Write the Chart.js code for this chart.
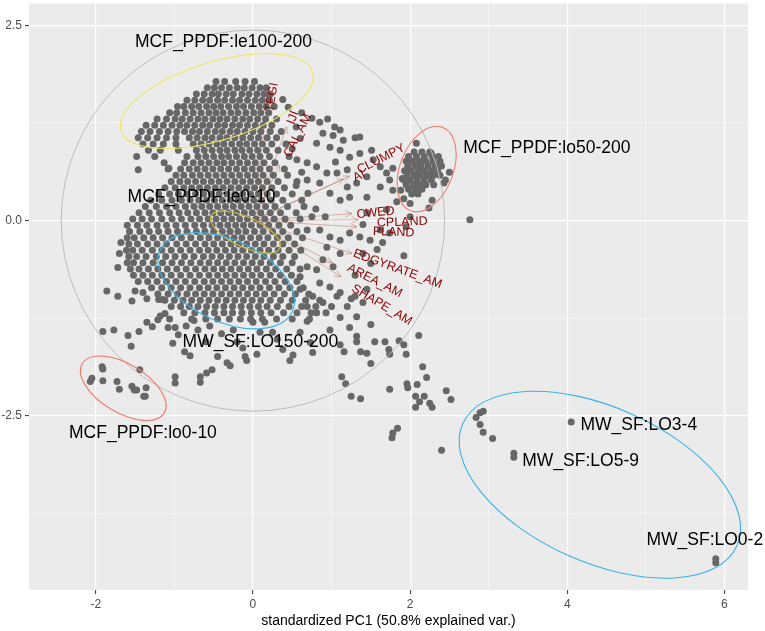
<!DOCTYPE html>
<html><head><meta charset="utf-8">
<script src="https://cdn.jsdelivr.net/npm/chart.js@4.4.0/dist/chart.umd.min.js"></script>
<style>html,body{margin:0;padding:0;background:#fff;}canvas{display:block;}</style>
</head><body>
<canvas id="c" width="765" height="631"></canvas>
<script>
// ---------- DATA (standardized PC1 / PC2 scores) ----------
// main cloud: each row = [PC2, [PC1 values of points in that band]]
const cloudRows = [
 [1.78,[-0.47,-0.36,-0.22,-0.10,0.02]],
 [1.70,[-0.58,-0.49,-0.40,-0.30,-0.20,-0.11,-0.01,0.09,0.17]],
 [1.62,[-0.72,-0.62,-0.52,-0.44,-0.34,-0.25,-0.14,-0.05,0.05,0.14,0.22]],
 [1.54,[-0.84,-0.74,-0.64,-0.55,-0.45,-0.36,-0.26,-0.17,-0.07,0.03,0.12,0.21]],
 [1.46,[-0.96,-0.88,-0.78,-0.69,-0.59,-0.50,-0.41,-0.31,-0.21,-0.12,-0.02,0.08,0.17,0.27]],
 [1.38,[-1.06,-0.97,-0.86,-0.76,-0.66,-0.56,-0.47,-0.38,-0.28,-0.19,-0.09,0.01,0.10,0.20]],
 [1.30,[-1.22,-1.10,-0.99,-0.90,-0.80,-0.70,-0.61,-0.51,-0.42,-0.33,-0.23,-0.13,-0.04,0.06,0.16,0.30]],
 [1.22,[-1.36,-1.25,-1.14,-1.03,-0.93,-0.84,-0.74,-0.64,-0.55,-0.45,-0.36,-0.26,-0.17,-0.07,0.03,0.13,0.24]],
 [1.14,[-1.42,-1.31,-1.19,-1.08,-0.97,-0.87,-0.77,-0.68,-0.58,-0.48,-0.39,-0.29,-0.20,-0.10,0.00,0.10,0.22,0.36]],
 [1.06,[-1.46,-1.34,-1.22,-1.10,-0.98,-0.81,-0.71,-0.61,-0.52,-0.42,-0.33,-0.23,-0.13,-0.03,0.07,0.18,0.30]],
 [0.98,[-1.40,-1.27,-1.14,-0.98,-0.76,-0.66,-0.56,-0.46,-0.37,-0.27,-0.17,-0.08,0.02,0.12,0.24,0.42]],
 [0.90,[-1.33,-1.18,-0.95,-0.72,-0.62,-0.52,-0.42,-0.33,-0.23,-0.14,-0.04,0.06,0.17,0.32]],
 [0.82,[-1.48,-1.25,-0.84,-0.70,-0.60,-0.50,-0.40,-0.31,-0.21,-0.11,-0.01,0.09,0.21,0.46]],
 [0.74,[-1.13,-0.87,-0.76,-0.66,-0.56,-0.46,-0.37,-0.27,-0.17,-0.07,0.03,0.14,0.28]],
 [0.66,[-1.08,-0.92,-0.81,-0.71,-0.61,-0.51,-0.41,-0.31,-0.21,-0.11,-0.01,0.09,0.21,0.40]],
 [0.58,[-0.98,-0.88,-0.77,-0.67,-0.57,-0.47,-0.37,-0.27,-0.17,-0.07,0.03,0.13,0.26,0.44]],
 [0.50,[-1.04,-0.93,-0.83,-0.73,-0.63,-0.53,-0.43,-0.33,-0.23,-0.13,-0.03,0.07,0.18,0.32,0.56]],
 [0.42,[-1.12,-0.99,-0.88,-0.78,-0.68,-0.58,-0.48,-0.38,-0.28,-0.18,-0.08,0.02,0.12,0.24,0.40]],
 [0.34,[-1.20,-1.06,-0.95,-0.84,-0.73,-0.63,-0.53,-0.43,-0.33,-0.23,-0.13,-0.03,0.07,0.18,0.30,0.50]],
 [0.26,[-1.30,-1.16,-1.03,-0.91,-0.80,-0.69,-0.59,-0.49,-0.39,-0.29,-0.19,-0.09,0.01,0.11,0.23,0.38,0.62]],
 [0.18,[-1.37,-1.23,-1.10,-0.98,-0.86,-0.75,-0.65,-0.55,-0.45,-0.35,-0.25,-0.15,-0.05,0.05,0.16,0.28,0.44]],
 [0.10,[-1.45,-1.32,-1.19,-1.06,-0.94,-0.83,-0.72,-0.61,-0.51,-0.41,-0.31,-0.21,-0.11,-0.01,0.10,0.22,0.35,0.55]],
 [0.02,[-1.53,-1.41,-1.29,-1.16,-1.03,-0.91,-0.79,-0.68,-0.57,-0.47,-0.37,-0.27,-0.17,-0.07,0.04,0.15,0.27,0.41,0.60]],
 [-0.06,[-1.60,-1.47,-1.35,-1.22,-1.10,-0.98,-0.86,-0.74,-0.63,-0.52,-0.42,-0.32,-0.22,-0.12,-0.02,0.09,0.20,0.33,0.48]],
 [-0.14,[-1.57,-1.44,-1.32,-1.20,-1.08,-0.96,-0.84,-0.72,-0.61,-0.50,-0.39,-0.29,-0.19,-0.09,0.02,0.13,0.25,0.38,0.56]],
 [-0.22,[-1.60,-1.51,-1.39,-1.27,-1.15,-1.03,-0.91,-0.79,-0.67,-0.56,-0.45,-0.34,-0.24,-0.14,-0.03,0.08,0.19,0.31,0.45,0.63]],
 [-0.30,[-1.58,-1.47,-1.34,-1.22,-1.10,-0.97,-0.85,-0.73,-0.61,-0.50,-0.39,-0.28,-0.18,-0.08,0.03,0.14,0.26,0.38,0.53]],
 [-0.38,[-1.61,-1.53,-1.41,-1.28,-1.16,-1.04,-0.92,-0.80,-0.68,-0.57,-0.46,-0.35,-0.24,-0.13,-0.02,0.09,0.20,0.32,0.46,0.61]],
 [-0.46,[-1.58,-1.48,-1.36,-1.23,-1.11,-0.99,-0.87,-0.75,-0.63,-0.52,-0.41,-0.30,-0.19,-0.08,0.03,0.14,0.26,0.38,0.53]],
 [-0.54,[-1.60,-1.52,-1.40,-1.27,-1.15,-1.03,-0.91,-0.79,-0.67,-0.56,-0.45,-0.34,-0.23,-0.12,-0.01,0.10,0.22,0.35,0.50]],
 [-0.62,[-1.56,-1.45,-1.33,-1.21,-1.09,-0.97,-0.85,-0.73,-0.61,-0.50,-0.39,-0.28,-0.17,-0.06,0.05,0.17,0.29,0.43,0.60]],
 [-0.70,[-1.52,-1.40,-1.28,-1.16,-1.04,-0.92,-0.80,-0.68,-0.56,-0.45,-0.34,-0.23,-0.12,-0.01,0.10,0.22,0.35,0.49]],
 [-0.78,[-1.46,-1.34,-1.22,-1.10,-0.98,-0.86,-0.74,-0.62,-0.51,-0.40,-0.29,-0.18,-0.07,0.04,0.16,0.28,0.41,0.56]],
 [-0.86,[-1.29,-1.16,-1.04,-0.92,-0.80,-0.68,-0.57,-0.46,-0.35,-0.24,-0.13,-0.02,0.09,0.21,0.33,0.47,0.64]],
 [-0.94,[-1.21,-1.08,-0.96,-0.84,-0.73,-0.62,-0.51,-0.40,-0.29,-0.18,-0.07,0.04,0.15,0.27,0.40,0.54,0.71]],
 [-1.02,[-1.12,-1.00,-0.89,-0.78,-0.67,-0.56,-0.45,-0.34,-0.23,-0.12,-0.01,0.10,0.22,0.35,0.50,0.67,0.85]],
 [-1.10,[-1.04,-0.92,-0.81,-0.70,-0.59,-0.48,-0.37,-0.26,-0.15,-0.04,0.07,0.18,0.31,0.46,0.62,0.80,1.00]],
 [-1.18,[-0.88,-0.74,-0.61,-0.49,-0.37,-0.26,-0.14,-0.02,0.10,0.23,0.39,0.56,0.74,0.93]],
 [-1.26,[-0.78,-0.60,-0.45,-0.30,-0.16,-0.03,0.12,0.30,0.50,0.72]]
];
// dense cluster on the right (MCF_PPDF:lo50-200)
const clusterRows = [
 [0.88,[2.05,2.15,2.25]],
 [0.82,[1.98,2.08,2.18,2.28,2.36]],
 [0.76,[1.95,2.03,2.12,2.20,2.29,2.38]],
 [0.70,[1.97,2.06,2.14,2.23,2.32,2.40]],
 [0.64,[1.93,2.01,2.10,2.18,2.27,2.35]],
 [0.58,[1.96,2.05,2.13,2.22,2.30,2.38]],
 [0.52,[1.92,2.00,2.09,2.18,2.27]],
 [0.46,[1.95,2.04,2.12,2.20,2.30]],
 [0.40,[1.98,2.07,2.15]],
 [0.34,[2.02,2.10]]
];
// individual scattered points [PC1, PC2]
const sparsePoints = [
 [2.08,0.99],[2.27,0.86],[2.50,0.62],[2.45,0.52],[2.43,0.48],[2.28,0.26],[2.24,0.16],[2.00,0.22],[1.92,0.28],[1.88,0.39],[1.90,0.54],[2.76,0.01],
 [0.75,1.31],[0.85,1.26],[0.95,1.30],[1.04,1.20],[1.11,1.16],[0.89,1.12],[1.02,1.09],[1.15,1.03],[1.30,1.06],[1.36,1.07],[0.81,0.99],[0.98,0.94],
 [1.11,0.90],[1.23,0.81],[1.36,0.86],[1.51,0.90],[1.53,0.78],[1.62,0.69],[1.70,0.61],[1.78,0.67],[1.74,0.52],[1.45,0.56],[1.32,0.48],[1.20,0.43],
 [1.07,0.61],[0.94,0.61],[0.81,0.69],[0.69,0.74],[0.56,0.78],[0.69,0.52],[0.85,0.48],[0.98,0.35],[1.11,0.26],[1.23,0.30],[1.45,0.30],[1.62,0.43],
 [1.78,0.39],[1.83,0.24],[1.70,0.14],[1.62,-0.12],[1.74,-0.16],[1.65,-0.28],[1.49,-0.25],[1.36,-0.21],[1.23,-0.16],[1.11,-0.25],[0.98,-0.21],[0.85,-0.12],
 [0.69,-0.12],[0.94,-0.34],[1.11,-0.42],[1.40,-0.42],[1.58,-0.37],[0.89,-0.50],[1.02,-0.59],[0.81,-0.63],[0.69,-0.59],[0.60,-0.72],[0.85,-0.80],[0.98,-0.85],
 [1.11,-0.92],[0.76,-0.97],[0.69,-1.10],[0.60,-0.88],[0.55,1.20],[0.60,1.05],[0.50,0.92],[0.62,0.62],[0.55,0.45],[0.70,0.35],[0.65,0.18],[0.75,0.05],
 [0.80,0.15],[0.92,0.05],[1.45,0.10],[1.40,-0.05],[1.95,-0.08],[2.00,0.05],[1.92,-0.45],[1.50,-0.55],[1.30,-0.70],[1.45,-0.88],[1.25,-1.00],[1.05,0.75],
 [1.20,0.65],[0.45,1.45],[0.62,1.38],[0.38,1.55],
 [1.23,-1.37],[1.11,-1.24],[1.20,-1.10],[1.32,-1.23],[1.40,-1.05],[1.30,-0.97],[1.07,-0.97],[0.89,-1.05],[0.81,-1.18],[0.69,-1.29],[0.60,-1.43],[0.73,-1.56],
 [0.31,-1.52],[0.38,-1.65],[0.25,-1.43],[0.09,-1.43],[0.98,-1.40],
 [1.13,-2.00],[1.18,-2.09],[1.25,-2.25],[1.37,-2.28],[1.74,-2.16],[1.96,-2.09],[1.97,-2.14],[2.09,-2.10],[2.16,-1.87],[2.21,-2.01],[2.11,-1.47],[1.86,-1.54],
 [1.92,-1.59],[1.95,-1.71],[1.73,-1.65],[1.74,-1.71],[1.68,-1.55],[1.55,-1.55],[1.50,-1.83],[1.45,-1.70],[1.37,-1.68],[1.32,-1.55],[1.32,-1.48],[1.50,-1.33],
 [1.16,-1.68],[2.07,-2.25],[2.12,-2.32],[2.18,-2.25],[2.07,-2.39],[2.25,-2.34],[2.28,-2.39],[2.46,-2.18],[2.52,-2.29],[1.78,-2.72],[1.84,-2.66],[1.77,-2.78],
 [2.40,-2.94],[1.11,-1.59],[0.47,-1.79],[0.51,-1.72],[0.76,-1.69],[-0.08,-1.79],[-0.10,-1.74],
 [2.84,-2.52],[2.89,-2.46],[2.93,-2.44],[2.89,-2.61],[2.93,-2.71],[3.05,-2.79],[3.32,-2.98],[3.32,-3.03],[4.05,-2.58],[5.89,-4.33],[5.89,-4.38],
 [-2.07,-2.06],[-1.73,-2.06],[-1.70,-2.16],[-1.54,-2.12],[-1.48,-2.17],[-1.37,-2.25],[-1.36,-2.14],[-1.92,-1.87],[-1.91,-1.90],[-2.05,-2.02],[-1.91,-2.05],
 [-1.51,-2.17],[-1.39,-2.25],[-1.44,-1.91],[-0.99,-2.00],[-0.99,-2.08],[-0.67,-2.07],
 [-1.59,-1.47],[-1.55,-1.61],[-1.45,-1.42],[-1.91,-1.42],[-1.77,-1.40],[-1.28,-1.36],[-1.21,-1.27],[-1.12,-1.19],[-1.06,-1.26],[-1.08,-1.37],[-0.99,-1.37],
 [-0.95,-1.46],[-0.87,-1.68],[-0.80,-1.73],[-1.02,-1.57],[-0.67,-2.00],[-0.59,-1.95],[-0.52,-1.91],[-0.33,-1.82],[-0.29,-1.86],[-0.13,-1.63],[0.05,-1.71],
 [-0.45,-1.74],[-1.86,-0.90],[-1.72,-0.97],[-1.54,-1.03],[-1.50,-0.90],[-1.40,-0.92],[-1.35,-1.00],[-1.20,-1.01],[-1.15,-1.01],[-1.18,-1.22],[-1.35,-1.30],
 [-1.46,0.65],[-1.07,0.67],[-0.70,-1.40],[-0.55,-1.35],[-0.40,-1.45],[-0.25,-1.40],[-0.60,-1.55],[-0.20,-1.55],[0.00,-1.30],[0.15,-1.30],[-0.85,-1.35],[-0.75,-1.28],
 [-1.70,-0.42],[-1.72,-0.60],[-1.68,-0.28]
];

// variable loadings (arrow tips) and their labels
const varNames      = ['TEGI','IJI','CAI_AM','AI','CLUMPY','CWED','CPLAND','PLAND','EDGYRATE_AM','AREA_AM','SHAPE_AM'];
const varTipX       = [0.15, 0.43, 0.34, 1.15, 1.23, 1.26, 1.34, 1.32, 1.26, 1.01, 1.12];
const varTipY       = [1.26, 1.20, 0.71, 0.53, 0.57, 0.09, 0.01, -0.08, -0.42, -0.54, -0.72];
const varLabelX     = [0.24, 0.51, 0.57, 1.35, 1.63, 1.56, 1.90, 1.79, 1.84, 1.55, 1.64];
const varLabelY     = [1.58, 1.32, 1.09, 0.57, 0.79, 0.10, -0.02, -0.15, -0.62, -0.77, -1.08];
const varLabelAngle = [-80, -70, -63, -26, -27, -6, -2, 2, 20, 27, 31];

// group ellipses
const ellCX    = [-0.46, -0.095, -0.34, 2.21, -1.65, 4.415];
const ellCY    = [1.53, -0.147, -0.77, 0.66, -2.147, -3.382];
const ellA     = [1.277, 0.484, 0.93, 0.57, 0.61, 1.916];
const ellB     = [0.50, 0.19, 0.52, 0.34, 0.31, 0.99];
const ellAngle = [-17, 25, 25, -69, 31, 24];
const ellColor = ['#EEE65C','#CDBE3C','#3DB1E3','#EE7D70','#EE7D70','#3DB1E3'];

// group labels
const labelText = ['MCF_PPDF:le100-200','MCF_PPDF:lo50-200','MCF_PPDF:le0-10','MW_SF:LO150-200','MCF_PPDF:lo0-10','MW_SF:LO3-4','MW_SF:LO5-9','MW_SF:LO0-2'];
const labelX    = [-0.375, 3.74, -0.655, 0.095, -1.40, 4.91, 4.17, 5.75];
const labelY    = [2.286, 0.928, 0.299, -1.562, -2.724, -2.622, -3.082, -4.091];

// correlation circle
const circleRadius = 2.44;

const xTitle = 'standardized PC1 (50.8% explained var.)';

// ---------- build ----------
const points = [];
cloudRows.forEach(([y, xs]) => xs.forEach(x => points.push({x, y})));
clusterRows.forEach(([y, xs]) => xs.forEach(x => points.push({x, y})));
sparsePoints.forEach(([x, y]) => points.push({x, y}));

const FONT = '"Liberation Sans", Arial, Helvetica, sans-serif';

function isMajor(v, step) { return Math.abs(v / step - Math.round(v / step)) < 1e-6; }

const bgPlugin = {
  id: 'bg',
  beforeDraw(chart) {
    const {ctx, chartArea: a} = chart;
    ctx.save();
    ctx.fillStyle = '#FFFFFF';
    ctx.fillRect(0, 0, chart.width, chart.height);
    ctx.fillStyle = '#EBEBEB';
    ctx.fillRect(a.left, a.top, a.right - a.left, a.bottom - a.top);
    ctx.restore();
  },
  beforeDatasetsDraw(chart) {
    const {ctx, chartArea: a, scales: {x, y}} = chart;
    ctx.save();
    ctx.beginPath(); ctx.rect(a.left, a.top, a.right - a.left, a.bottom - a.top); ctx.clip();
    ctx.strokeStyle = 'rgba(165,75,55,0.38)';
    ctx.lineWidth = 1;
    const x0 = x.getPixelForValue(0), y0 = y.getPixelForValue(0);
    for (let i = 0; i < varNames.length; i++) {
      const tx = x.getPixelForValue(varTipX[i]), ty = y.getPixelForValue(varTipY[i]);
      ctx.beginPath(); ctx.moveTo(x0, y0); ctx.lineTo(tx, ty); ctx.stroke();
      const ang = Math.atan2(ty - y0, tx - x0), L = 7, w = Math.PI / 7;
      ctx.beginPath();
      ctx.moveTo(tx - L * Math.cos(ang - w), ty - L * Math.sin(ang - w));
      ctx.lineTo(tx, ty);
      ctx.lineTo(tx - L * Math.cos(ang + w), ty - L * Math.sin(ang + w));
      ctx.stroke();
    }
    ctx.restore();
  },
  afterDatasetsDraw(chart) {
    const {ctx, chartArea: a, scales: {x, y}} = chart;
    const px = x.getPixelForValue(1) - x.getPixelForValue(0);
    const py = y.getPixelForValue(0) - y.getPixelForValue(1);
    const pm = (px + py) / 2;
    ctx.save();
    ctx.beginPath(); ctx.rect(a.left, a.top, a.right - a.left, a.bottom - a.top); ctx.clip();
    // circle
    ctx.strokeStyle = '#BDBDBD'; ctx.lineWidth = 1;
    ctx.beginPath();
    ctx.ellipse(x.getPixelForValue(0), y.getPixelForValue(0), circleRadius * px, circleRadius * py, 0, 0, Math.PI * 2);
    ctx.stroke();
    // ellipses
    ctx.lineWidth = 1.1;
    for (let i = 0; i < ellCX.length; i++) {
      ctx.strokeStyle = ellColor[i];
      ctx.beginPath();
      ctx.ellipse(x.getPixelForValue(ellCX[i]), y.getPixelForValue(ellCY[i]), ellA[i] * pm, ellB[i] * pm, ellAngle[i] * Math.PI / 180, 0, Math.PI * 2);
      ctx.stroke();
    }
    // variable labels
    ctx.fillStyle = '#8B0000';
    ctx.font = '12.5px ' + FONT;
    ctx.textAlign = 'center'; ctx.textBaseline = 'middle';
    for (let i = 0; i < varNames.length; i++) {
      ctx.save();
      ctx.translate(x.getPixelForValue(varLabelX[i]), y.getPixelForValue(varLabelY[i]));
      ctx.rotate(varLabelAngle[i] * Math.PI / 180);
      ctx.fillText(varNames[i], 0, 0);
      ctx.restore();
    }
    ctx.restore();
    // group labels (not clipped)
    ctx.save();
    ctx.fillStyle = '#000000';
    ctx.font = '17.5px ' + FONT;
    ctx.textAlign = 'center'; ctx.textBaseline = 'middle';
    for (let i = 0; i < labelText.length; i++) {
      ctx.fillText(labelText[i], x.getPixelForValue(labelX[i]), y.getPixelForValue(labelY[i]));
    }
    // x title
    ctx.font = '14px ' + FONT;
    ctx.fillText(xTitle, (a.left + a.right) / 2, 621);
    ctx.restore();
  }
};

new Chart(document.getElementById('c'), {
  type: 'scatter',
  data: { datasets: [{ data: points, pointRadius: 3.5, pointHoverRadius: 3.5, backgroundColor: '#676767', borderWidth: 0 }] },
  options: {
    responsive: false, animation: false, events: [],
    layout: { padding: { top: 3, right: 17, left: 0, bottom: 0 } },
    plugins: { legend: { display: false }, tooltip: { enabled: false } },
    scales: {
      x: {
        type: 'linear', min: -2.85, max: 6.30,
        afterFit(s) { s.height = 41; s.paddingLeft = 0; s.paddingRight = 0; },
        border: { display: false },
        grid: {
          color: c => isMajor(c.tick.value, 2) ? '#FFFFFF' : 'rgba(255,255,255,0.75)',
          lineWidth: c => isMajor(c.tick.value, 2) ? 1.2 : 0.6,
          tickLength: 4,
          tickColor: c => isMajor(c.tick.value, 2) ? '#333333' : 'rgba(0,0,0,0)',
          tickWidth: 1
        },
        ticks: {
          stepSize: 1, includeBounds: false, autoSkip: false, maxRotation: 0, padding: 3,
          color: '#4D4D4D', font: { size: 12, family: FONT },
          callback: v => isMajor(v, 2) ? String(Math.round(v)) : ''
        }
      },
      y: {
        type: 'linear', min: -4.73, max: 2.78,
        afterFit(s) { s.width = 29; s.paddingTop = 0; s.paddingBottom = 0; },
        border: { display: false },
        grid: {
          color: c => isMajor(c.tick.value, 2.5) ? '#FFFFFF' : 'rgba(255,255,255,0.75)',
          lineWidth: c => isMajor(c.tick.value, 2.5) ? 1.2 : 0.6,
          tickLength: 4,
          tickColor: c => isMajor(c.tick.value, 2.5) ? '#333333' : 'rgba(0,0,0,0)',
          tickWidth: 1
        },
        ticks: {
          stepSize: 1.25, includeBounds: false, autoSkip: false, padding: 3,
          color: '#4D4D4D', font: { size: 12, family: FONT },
          callback: v => isMajor(v, 2.5) ? (Math.abs(v) < 1e-9 ? '0.0' : v.toFixed(1)) : ''
        }
      }
    }
  },
  plugins: [bgPlugin]
});
</script>
</body></html>
